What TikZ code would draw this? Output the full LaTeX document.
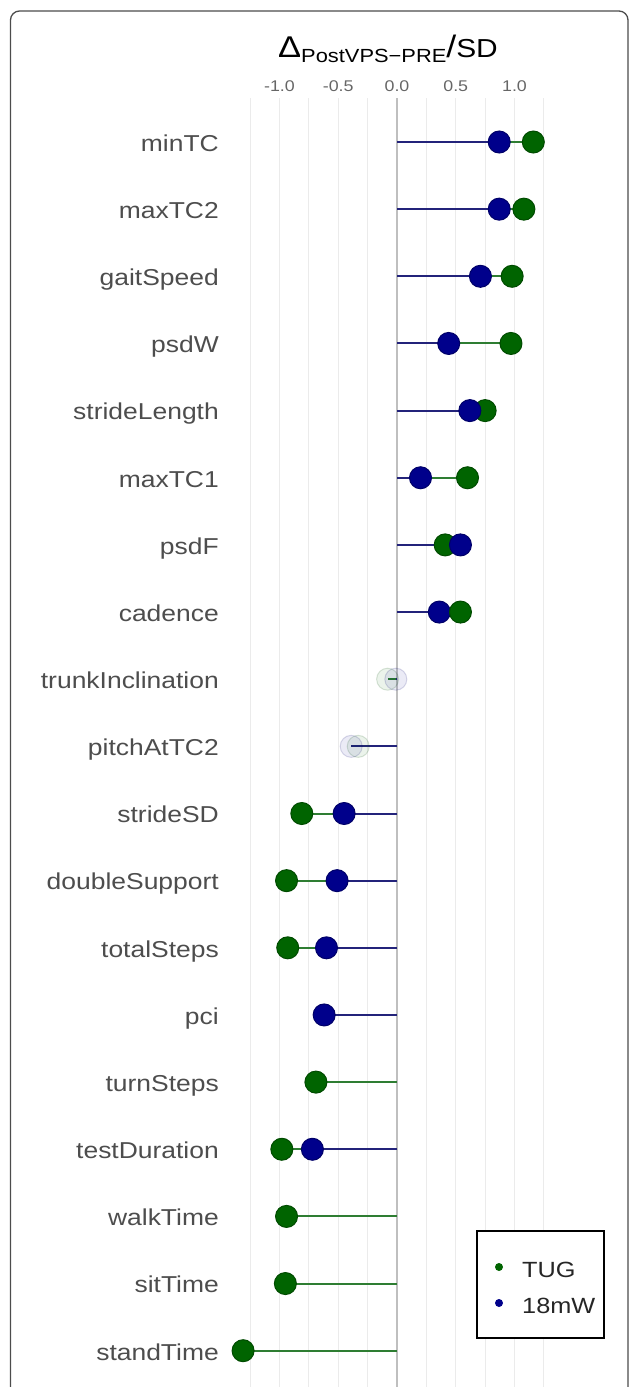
\documentclass[tikz,border=0pt]{standalone}
\usepackage{fontspec}
\setmainfont{Liberation Sans}[FakeStretch=1.15]
\usepackage{tikz}
\usetikzlibrary{calc,positioning}

\definecolor{tug}{HTML}{006400}
\definecolor{tugline}{HTML}{2E7D32}
\definecolor{mw}{HTML}{00008B}
\definecolor{mwline}{HTML}{23237A}
\definecolor{gridgray}{HTML}{EBEBEB}
\definecolor{labelgray}{HTML}{4D4D4D}

\begin{document}
\begin{tikzpicture}[x=1pt,y=-1pt,
                lbl/.style={anchor=base east,inner sep=0pt,text=labelgray,font=\fontsize{23}{23}\selectfont},
                tick/.style={anchor=base,inner sep=0pt,text=black!60,font=\fontsize{15.5}{15.5}\selectfont},
                dot/.style={circle,inner sep=0pt,minimum size=22pt,line width=1pt},
                gdot/.style={dot,fill=tug,draw=tug!75!black},
                bdot/.style={dot,fill=mw,draw=mw!75!black},
                gfade/.style={gdot,fill opacity=0.08,draw opacity=0.15},
                bfade/.style={bdot,fill opacity=0.08,draw opacity=0.15},
                gline/.style={tugline,line width=2pt},
                bline/.style={mwline,line width=2pt},
                keytext/.style={anchor=base west,inner sep=0pt,text=black!85,font=\fontsize{22}{22}\selectfont}
            ]
                \useasboundingbox (0,0) rectangle (629,1387);
                \draw[black!70,line width=1.3pt,rounded corners=9pt] (10.5,1400) |- (628,11) -- (628,1400);

                \node[anchor=base,inner sep=0pt] (title) at (388,57)
                    {{\fontsize{30}{30}\selectfont Δ}\raisebox{-5pt}{\fontsize{19}{19}\selectfont PostVPS−PRE}{\fontsize{31}{31}\selectfont/}{\fontsize{26}{26}\selectfont SD}};

                \foreach \name [count=\i from 0] in {minTC,maxTC2,gaitSpeed,psdW,strideLength,maxTC1,psdF,cadence,
                    trunkInclination,pitchAtTC2,strideSD,doubleSupport,totalSteps,pci,turnSteps,testDuration,
                    walkTime,sitTime,standTime}
                    \node[lbl] (l\i) at (219,{151.3+67.15*\i}) {\name};

                \begin{scope}[x=117.5pt,xshift=397pt]
                    % grid and zero line
                    \foreach \v in {-1.25,-1,...,1.25}
                        \draw[gridgray,line width=1pt] (\v,98) -- (\v,1387);
                    \draw[black!25,line width=2.2pt] (0,98) -- (0,1387);
                    \foreach \v [count=\k] in {-1.0,-0.5,0.0,0.5,1.0}
                        \node[tick] (t\k) at (\v,91) {\v};

                    \foreach \r in {0,...,18}
                        \coordinate (z\r) at (0,{142+67.15*\r});

                    % stems
                    \foreach \r/\v in {0/1.16,1/1.08,2/0.98,3/0.97,4/0.75,5/0.60,6/0.41,7/0.54,8/-0.08,9/-0.33,
                        10/-0.81,11/-0.94,12/-0.93,14/-0.69,15/-0.98,16/-0.94,17/-0.95,18/-1.31}{
                        \coordinate (gv\r) at (\v,{142+67.15*\r});
                        \draw[gline] (z\r) -- (gv\r);
                    }
                    \foreach \r/\v in {0/0.87,1/0.87,2/0.71,3/0.44,4/0.62,5/0.20,6/0.54,7/0.36,8/-0.01,9/-0.39,
                        10/-0.45,11/-0.51,12/-0.60,13/-0.62,15/-0.72}{
                        \coordinate (bv\r) at (\v,{142+67.15*\r});
                        \draw[bline] (z\r) -- (bv\r);
                    }

                    % dots
                    \foreach \r/\s in {0/gdot,1/gdot,2/gdot,3/gdot,4/gdot,5/gdot,6/gdot,8/gfade,9/gfade,
                        10/gdot,11/gdot,12/gdot,14/gdot,15/gdot,16/gdot,17/gdot,18/gdot}
                        \node[\s] (g\r) at (gv\r) {};
                    \foreach \r/\s in {0/bdot,1/bdot,2/bdot,3/bdot,4/bdot,5/bdot,6/bdot,7/bdot,8/bfade,9/bfade,
                        10/bdot,11/bdot,12/bdot,13/bdot,15/bdot}
                        \node[\s] (b\r) at (bv\r) {};
                    \node[gdot] (g7) at (gv7) {};
                \end{scope}

                % legend
                \node[draw=black,line width=1.2pt,fill=white,inner sep=0pt,minimum width=127pt,minimum height=107pt] (key) at (540.5,1284.5) {};
                \node[circle,fill=tug,inner sep=0pt,minimum size=8pt] (k1) at (499,1267) {};
                \node[keytext] (k1t) at (522,1277) {TUG};
                \node[circle,fill=mw,inner sep=0pt,minimum size=8pt] (k2) at (499,1303) {};
                \node[keytext] (k2t) at (522,1313) {18mW};
            \end{tikzpicture}
\end{document}
